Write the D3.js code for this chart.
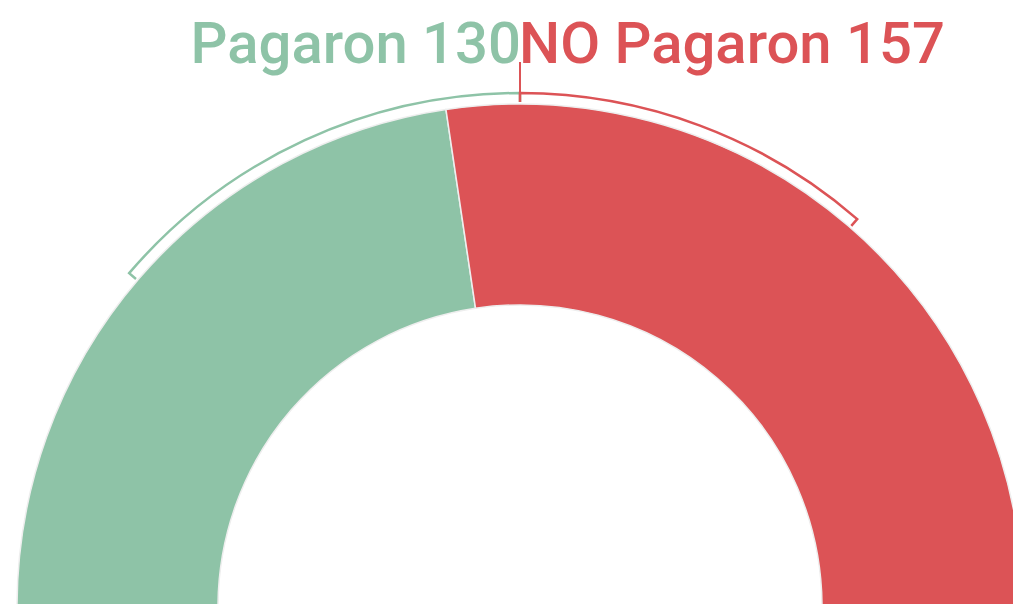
<!DOCTYPE html>
<html>
<head>
<meta charset="utf-8">
<script src="https://cdn.jsdelivr.net/npm/d3@7"></script>
<style>
  body { margin: 0; background: #fff; }
  svg { display: block; }
</style>
</head>
<body>
<div id="chart"></div>
<script>
// Data
const labels = ["Pagaron", "NO Pagaron"];
const values = [130, 157];
const colors = ["#8ec3a7", "#dc5356"];
// bracket extents (degrees from top, clockwise)
const bracketStart = [-49.5, 0];
const bracketEnd = [0, 41];

const width = 1013, height = 604;
const cx = 520, cy = 607;
const innerR = 302, outerR = 503;
const bracketR = 514, tickR = 505;

const svg = d3.select("#chart")
    .append("svg")
    .attr("width", width)
    .attr("height", height);

const g = svg.append("g")
    .attr("transform", `translate(${cx},${cy})`);

// Half donut
const pie = d3.pie()
    .sort(null)
    .startAngle(-Math.PI / 2)
    .endAngle(Math.PI / 2);

const arc = d3.arc()
    .innerRadius(innerR)
    .outerRadius(outerR);

g.selectAll("path.slice")
    .data(pie(values))
    .enter().append("path")
    .attr("class", "slice")
    .attr("d", arc)
    .attr("fill", (d, i) => colors[i])
    .attr("stroke", "#eeeeee")
    .attr("stroke-width", 1.5);

// Brackets outside the donut
const toRad = d3.scaleLinear().domain([0, 180]).range([0, Math.PI]);
function bracket(a0, a1) {
    const t0 = toRad(a0) - Math.PI / 2, t1 = toRad(a1) - Math.PI / 2;
    const p = d3.path();
    p.moveTo(tickR * Math.cos(t0), tickR * Math.sin(t0));
    p.lineTo(bracketR * Math.cos(t0), bracketR * Math.sin(t0));
    p.arc(0, 0, bracketR, t0, t1, false);
    p.lineTo(tickR * Math.cos(t1), tickR * Math.sin(t1));
    return p.toString();
}

labels.forEach((lab, i) => {
    g.append("path")
        .attr("d", bracket(bracketStart[i], bracketEnd[i]))
        .attr("fill", "none")
        .attr("stroke", colors[i])
        .attr("stroke-width", 2.5);
});

// Divider tick at top
g.append("line")
    .attr("x1", 0).attr("x2", 0)
    .attr("y1", -bracketR)
    .attr("y2", -bracketR - 31)
    .attr("stroke", colors[1])
    .attr("stroke-width", 2);

// Labels
svg.append("text")
    .attr("x", cx + 1)
    .attr("y", 63)
    .attr("text-anchor", "end")
    .style("font-family", "Roboto")
    .style("font-weight", 500)
    .style("font-size", "58px")
    .attr("fill", colors[0])
    .text(`${labels[0]} ${values[0]}`);

svg.append("text")
    .attr("x", cx - 1)
    .attr("y", 63)
    .attr("text-anchor", "start")
    .style("font-family", "Roboto")
    .style("font-weight", 500)
    .style("font-size", "58px")
    .attr("fill", colors[1])
    .text(`${labels[1]} ${values[1]}`);
</script>
</body>
</html>
